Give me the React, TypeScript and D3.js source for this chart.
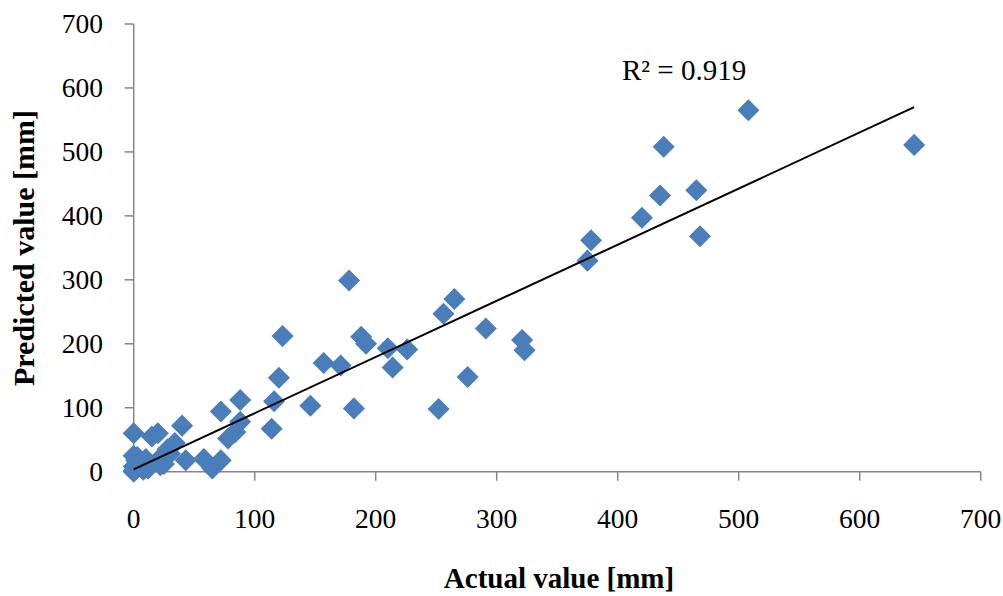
import React, { useEffect, useRef } from "react";
import * as d3 from "d3";

const actual: number[] = [
  0, 0, 0, 2, 0, 3, 8, 12, 10, 15, 0, 20, 20, 22, 25, 28, 34, 40, 43, 58, 65, 72,
  78, 84, 88, 72, 88, 114, 116, 120, 123, 146, 157, 171, 178, 182, 188, 192, 210,
  214, 226, 252, 256, 265, 276, 291, 321, 323, 375, 378, 420, 435, 438, 465, 468,
  508, 645, 5, 30,
];
const predicted: number[] = [
  0, 2, 8, 18, 25, 23, 3, 5, 20, 55, 60, 60, 18, 10, 12, 35, 45, 72, 18, 20, 5, 18,
  52, 62, 78, 94, 112, 67, 110, 147, 212, 103, 170, 166, 299, 99, 211, 200, 193,
  163, 191, 98, 247, 270, 148, 224, 206, 190, 330, 362, 397, 432, 508, 440, 368,
  565, 511, 12, 28,
];
const xTicks: number[] = [0, 100, 200, 300, 400, 500, 600, 700];
const yTicks: number[] = [0, 100, 200, 300, 400, 500, 600, 700];
const trendSlope = 0.878;
const trendIntercept = 3.7;
const rSquaredLabel = "R² = 0.919";
const xTitle = "Actual value [mm]";
const yTitle = "Predicted value [mm]";

const W = 1003;
const H = 596;
const FONT = "'Liberation Serif', 'Times New Roman', serif";

export default function App() {
  const ref = useRef<SVGSVGElement>(null);

  useEffect(() => {
    const svg = d3.select(ref.current);
    svg.selectAll("*").remove();

    const x = d3.scaleLinear().domain([0, 700]).range([133.7, 980.7]);
    const y = d3.scaleLinear().domain([0, 700]).range([471.7, 24]);
    const axisColor = "#868686";

    svg.append("line")
      .attr("x1", x(0)).attr("x2", x(700)).attr("y1", y(0)).attr("y2", y(0))
      .attr("stroke", axisColor).attr("stroke-width", 1.5);
    svg.append("line")
      .attr("x1", x(0)).attr("x2", x(0)).attr("y1", y(0)).attr("y2", y(700))
      .attr("stroke", axisColor).attr("stroke-width", 1.5);

    const xg = svg.append("g");
    xTicks.forEach((t) => {
      xg.append("line")
        .attr("x1", x(t)).attr("x2", x(t)).attr("y1", y(0)).attr("y2", y(0) + 9)
        .attr("stroke", axisColor).attr("stroke-width", 1.5);
      xg.append("text")
        .attr("x", x(t)).attr("y", 528)
        .attr("text-anchor", "middle")
        .attr("font-family", FONT).attr("font-size", 27.5).attr("fill", "#000")
        .text(String(t));
    });

    const yg = svg.append("g");
    yTicks.forEach((t) => {
      yg.append("line")
        .attr("x1", x(0) - 9).attr("x2", x(0)).attr("y1", y(t)).attr("y2", y(t))
        .attr("stroke", axisColor).attr("stroke-width", 1.5);
      yg.append("text")
        .attr("x", 103).attr("y", y(t))
        .attr("dy", "0.34em")
        .attr("text-anchor", "end")
        .attr("font-family", FONT).attr("font-size", 27.5).attr("fill", "#000")
        .text(String(t));
    });

    const diamond = d3.symbol().type(d3.symbolDiamond2).size(310);
    const data = actual.map((a, i) => ({ a, p: predicted[i] }));
    svg.append("g")
      .selectAll("path")
      .data(data)
      .join("path")
      .attr("d", diamond() as string)
      .attr("transform", (d) => `translate(${x(d.a)},${y(d.p)})`)
      .attr("fill", "#4A7EBB");

    const xMin = d3.min(actual) as number;
    const xMax = d3.max(actual) as number;
    svg.append("line")
      .attr("x1", x(xMin)).attr("y1", y(trendIntercept + trendSlope * xMin))
      .attr("x2", x(xMax)).attr("y2", y(trendIntercept + trendSlope * xMax))
      .attr("stroke", "#000").attr("stroke-width", 2);

    svg.append("text")
      .attr("x", 622).attr("y", 80)
      .attr("font-family", FONT).attr("font-size", 29).attr("fill", "#000")
      .text(rSquaredLabel);

    svg.append("text")
      .attr("x", 559).attr("y", 588)
      .attr("text-anchor", "middle")
      .attr("font-family", FONT).attr("font-size", 29).attr("font-weight", "bold")
      .attr("fill", "#000")
      .text(xTitle);

    svg.append("text")
      .attr("transform", `translate(34,248) rotate(-90)`)
      .attr("text-anchor", "middle")
      .attr("font-family", FONT).attr("font-size", 30).attr("font-weight", "bold")
      .attr("fill", "#000")
      .text(yTitle);
  }, []);

  return (
    <svg
      ref={ref}
      width={W}
      height={H}
      style={{ position: "absolute", left: 0, top: 0, background: "#fff" }}
    />
  );
}
